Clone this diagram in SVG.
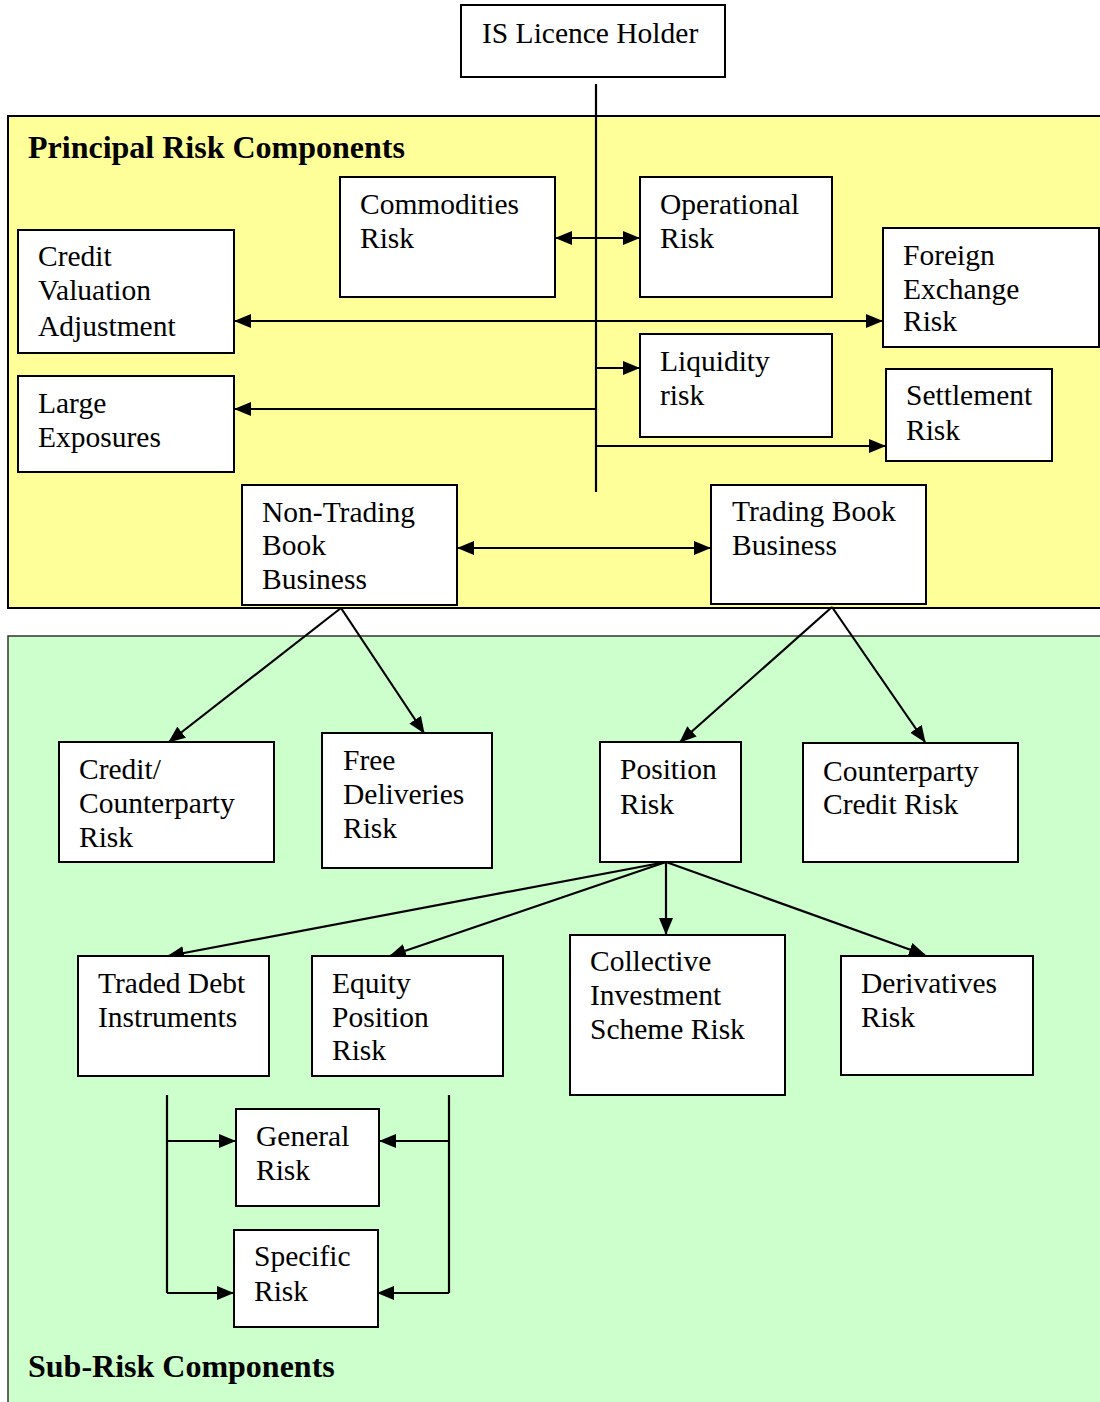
<svg xmlns="http://www.w3.org/2000/svg" width="1100" height="1402" viewBox="0 0 1100 1402">
<style>
.box{fill:#fff;stroke:#000;stroke-width:2}
.t{font-family:"Liberation Serif","Times New Roman",serif;font-size:29.5px;fill:#000}
.h{font-family:"Liberation Serif","Times New Roman",serif;font-size:32px;font-weight:bold;fill:#000}
.c{stroke:#000;stroke-width:2.2;fill:none}
</style>
<defs>
<marker id="ah" markerWidth="17" markerHeight="14" refX="16" refY="7" orient="auto-start-reverse" markerUnits="userSpaceOnUse"><path d="M0,0 L17,7 L0,14 z" fill="#000"/></marker>
</defs>
<rect x="0" y="0" width="1100" height="1402" fill="#fff"/>
<g id="panel-principal">
<rect x="8" y="116" width="1100" height="492" fill="#FFFF99" stroke="#000" stroke-width="2"/>
<text class="h" x="28" y="158">Principal Risk Components</text>
</g>
<g id="panel-sub">
<rect x="8" y="636" width="1100" height="780" fill="#CCFFCC" stroke="#333" stroke-width="1.5"/>
<text class="h" x="28" y="1377">Sub-Risk Components</text>
</g>
<g id="connectors">
<line class="c" x1="596" y1="84" x2="596" y2="492" stroke-width="1.8"/>
<line class="c" x1="556" y1="238" x2="639" y2="238" marker-start="url(#ah)" marker-end="url(#ah)"/>
<line class="c" x1="235" y1="321" x2="882" y2="321" marker-start="url(#ah)" marker-end="url(#ah)"/>
<line class="c" x1="596" y1="409" x2="235" y2="409" marker-end="url(#ah)"/>
<line class="c" x1="596" y1="368" x2="639" y2="368" marker-end="url(#ah)"/>
<line class="c" x1="596" y1="446" x2="885" y2="446" marker-end="url(#ah)"/>
<line class="c" x1="458" y1="548" x2="710" y2="548" marker-start="url(#ah)" marker-end="url(#ah)"/>
<line class="c" x1="341" y1="608" x2="169" y2="742" marker-end="url(#ah)"/>
<line class="c" x1="341" y1="608" x2="424" y2="733" marker-end="url(#ah)"/>
<line class="c" x1="832" y1="607" x2="680" y2="742" marker-end="url(#ah)"/>
<line class="c" x1="832" y1="607" x2="925" y2="742" marker-end="url(#ah)"/>
<line class="c" x1="666" y1="862" x2="168" y2="956" marker-end="url(#ah)"/>
<line class="c" x1="666" y1="862" x2="390" y2="956" marker-end="url(#ah)"/>
<line class="c" x1="666" y1="862" x2="666" y2="934" marker-end="url(#ah)"/>
<line class="c" x1="666" y1="862" x2="925" y2="955" marker-end="url(#ah)"/>
<polyline class="c" points="167,1095 167,1293"/>
<line class="c" x1="167" y1="1141" x2="235" y2="1141" marker-end="url(#ah)"/>
<line class="c" x1="167" y1="1293" x2="233" y2="1293" marker-end="url(#ah)"/>
<polyline class="c" points="449,1095 449,1293"/>
<line class="c" x1="449" y1="1141" x2="380" y2="1141" marker-end="url(#ah)"/>
<line class="c" x1="449" y1="1293" x2="378" y2="1293" marker-end="url(#ah)"/>
</g>
<g id="is-licence-holder"><rect class="box" x="461" y="5" width="264" height="72"/><text class="t" x="482" y="43">IS Licence Holder</text></g>
<g id="commodities-risk"><rect class="box" x="340" y="177" width="215" height="120"/><text class="t" x="360" y="214">Commodities</text><text class="t" x="360" y="248">Risk</text></g>
<g id="operational-risk"><rect class="box" x="640" y="177" width="192" height="120"/><text class="t" x="660" y="214">Operational</text><text class="t" x="660" y="248">Risk</text></g>
<g id="cva"><rect class="box" x="18" y="230" width="216" height="123"/><text class="t" x="38" y="266">Credit</text><text class="t" x="38" y="300">Valuation</text><text class="t" x="38" y="336">Adjustment</text></g>
<g id="fx-risk"><rect class="box" x="883" y="228" width="216" height="119"/><text class="t" x="903" y="265">Foreign</text><text class="t" x="903" y="299">Exchange</text><text class="t" x="903" y="331">Risk</text></g>
<g id="large-exposures"><rect class="box" x="18" y="376" width="216" height="96"/><text class="t" x="38" y="413">Large</text><text class="t" x="38" y="447">Exposures</text></g>
<g id="liquidity-risk"><rect class="box" x="640" y="334" width="192" height="103"/><text class="t" x="660" y="371">Liquidity</text><text class="t" x="660" y="405">risk</text></g>
<g id="settlement-risk"><rect class="box" x="886" y="369" width="166" height="92"/><text class="t" x="906" y="405">Settlement</text><text class="t" x="906" y="440">Risk</text></g>
<g id="non-trading-book"><rect class="box" x="242" y="485" width="215" height="120"/><text class="t" x="262" y="522">Non-Trading</text><text class="t" x="262" y="555">Book</text><text class="t" x="262" y="589">Business</text></g>
<g id="trading-book"><rect class="box" x="711" y="485" width="215" height="119"/><text class="t" x="732" y="521">Trading Book</text><text class="t" x="732" y="555">Business</text></g>
<g id="credit-counterparty-risk"><rect class="box" x="59" y="742" width="215" height="120"/><text class="t" x="79" y="779">Credit/</text><text class="t" x="79" y="813">Counterparty</text><text class="t" x="79" y="847">Risk</text></g>
<g id="free-deliveries-risk"><rect class="box" x="322" y="733" width="170" height="135"/><text class="t" x="343" y="770">Free</text><text class="t" x="343" y="804">Deliveries</text><text class="t" x="343" y="838">Risk</text></g>
<g id="position-risk"><rect class="box" x="600" y="742" width="141" height="120"/><text class="t" x="620" y="779">Position</text><text class="t" x="620" y="814">Risk</text></g>
<g id="counterparty-credit-risk"><rect class="box" x="803" y="743" width="215" height="119"/><text class="t" x="823" y="781">Counterparty</text><text class="t" x="823" y="814">Credit Risk</text></g>
<g id="traded-debt"><rect class="box" x="78" y="956" width="191" height="120"/><text class="t" x="98" y="993">Traded Debt</text><text class="t" x="98" y="1027">Instruments</text></g>
<g id="equity-position-risk"><rect class="box" x="312" y="956" width="191" height="120"/><text class="t" x="332" y="993">Equity</text><text class="t" x="332" y="1027">Position</text><text class="t" x="332" y="1060">Risk</text></g>
<g id="cis-risk"><rect class="box" x="570" y="935" width="215" height="160"/><text class="t" x="590" y="971">Collective</text><text class="t" x="590" y="1005">Investment</text><text class="t" x="590" y="1039">Scheme Risk</text></g>
<g id="derivatives-risk"><rect class="box" x="841" y="956" width="192" height="119"/><text class="t" x="861" y="993">Derivatives</text><text class="t" x="861" y="1027">Risk</text></g>
<g id="general-risk"><rect class="box" x="236" y="1109" width="143" height="97"/><text class="t" x="256" y="1146">General</text><text class="t" x="256" y="1180">Risk</text></g>
<g id="specific-risk"><rect class="box" x="234" y="1230" width="144" height="97"/><text class="t" x="254" y="1266">Specific</text><text class="t" x="254" y="1301">Risk</text></g>
</svg>
